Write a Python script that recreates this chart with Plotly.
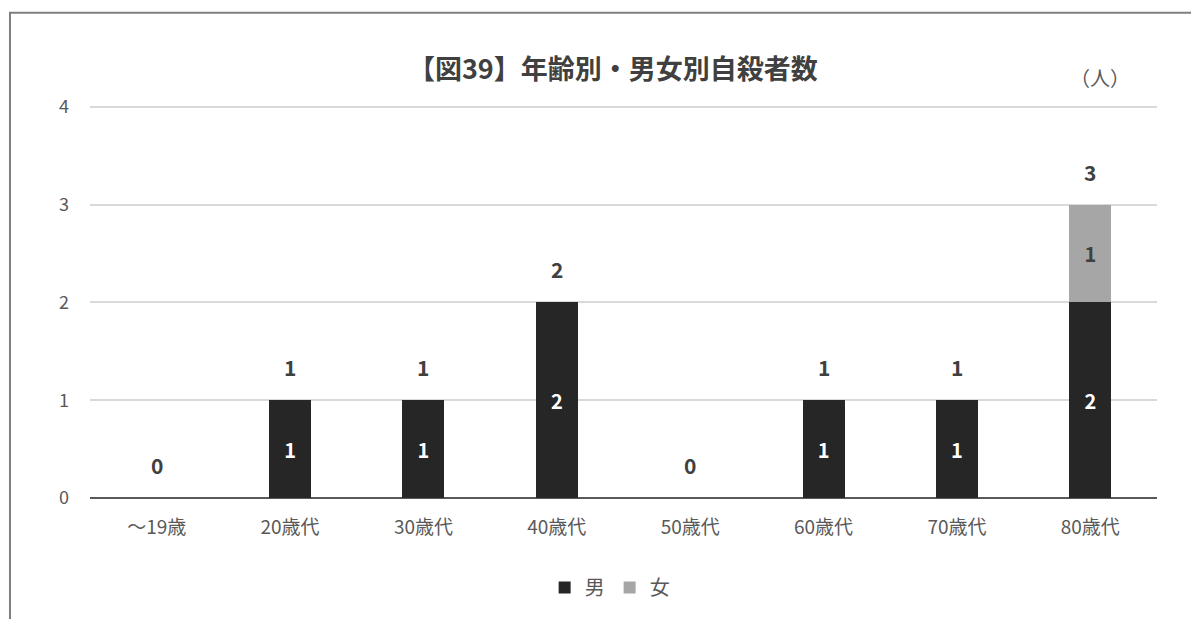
import plotly.graph_objects as go

categories = ["～19歳", "20歳代", "30歳代", "40歳代", "50歳代", "60歳代", "70歳代", "80歳代"]
male = [0, 1, 1, 2, 0, 1, 1, 2]
female = [0, 0, 0, 0, 0, 0, 0, 1]
totals = [m + f for m, f in zip(male, female)]
y_ticks = [0, 1, 2, 3, 4]

FONT = "Noto Sans CJK JP"

fig = go.Figure()
fig.add_trace(go.Bar(
    x=categories, y=male, name="男",
    marker=dict(color="#262626", line=dict(width=0)),
    text=[str(v) if v else "" for v in male],
    textposition="inside", insidetextanchor="middle",
    textfont=dict(color="white", size=20, family=FONT),
    texttemplate="<b>%{text}</b>",
))
fig.add_trace(go.Bar(
    x=categories, y=female, name="女",
    marker=dict(color="#a6a6a6", line=dict(width=0)),
    text=[str(v) if v else "" for v in female],
    textposition="inside", insidetextanchor="middle",
    textfont=dict(color="#404040", size=20, family=FONT),
    texttemplate="<b>%{text}</b>",
))

for c, t in zip(categories, totals):
    fig.add_annotation(x=c, y=t, text=f"<b>{t}</b>", showarrow=False,
                       yshift=33, font=dict(size=21, color="#404040", family=FONT))

fig.add_annotation(xref="paper", yref="paper", x=0.977, y=1.069, yanchor="middle",
                   text="（人）", showarrow=False,
                   font=dict(size=20, color="#595959", family=FONT))

# outer border of the chart box
fig.add_shape(type="rect", xref="paper", yref="paper",
              x0=-0.075, x1=1.06, y0=-0.5, y1=1.235,
              line=dict(color="#7f7f7f", width=2), layer="below")

fig.update_layout(
    width=1199, height=619,
    margin=dict(l=82, r=50, t=97, b=129),
    barmode="stack", bargap=0.685,
    paper_bgcolor="white", plot_bgcolor="white",
    font=dict(family=FONT, color="#595959"),
    title=dict(text="【図39】年齢別・男女別自殺者数", x=0.49, xref="paper",
               y=1 - 62 / 619, yref="container", xanchor="center", yanchor="middle",
               font=dict(size=27, color="#404040", family=FONT, weight="bold")),
    legend=dict(orientation="h", x=0.487, xanchor="center", y=-0.228, yanchor="middle",
                font=dict(size=20, color="#595959"), itemwidth=30, traceorder="normal"),
    xaxis=dict(showgrid=False, showline=False, ticks="", ticklabelstandoff=16,
               tickfont=dict(size=19, color="#595959")),
    yaxis=dict(range=[0, 4.02], tickvals=y_ticks, showgrid=True, gridcolor="#d9d9d9", gridwidth=1.5,
               zeroline=True, zerolinecolor="#595959", zerolinewidth=2,
               tickfont=dict(size=18, color="#595959"), ticklabelstandoff=20),
)

fig.write_html("out.html")
